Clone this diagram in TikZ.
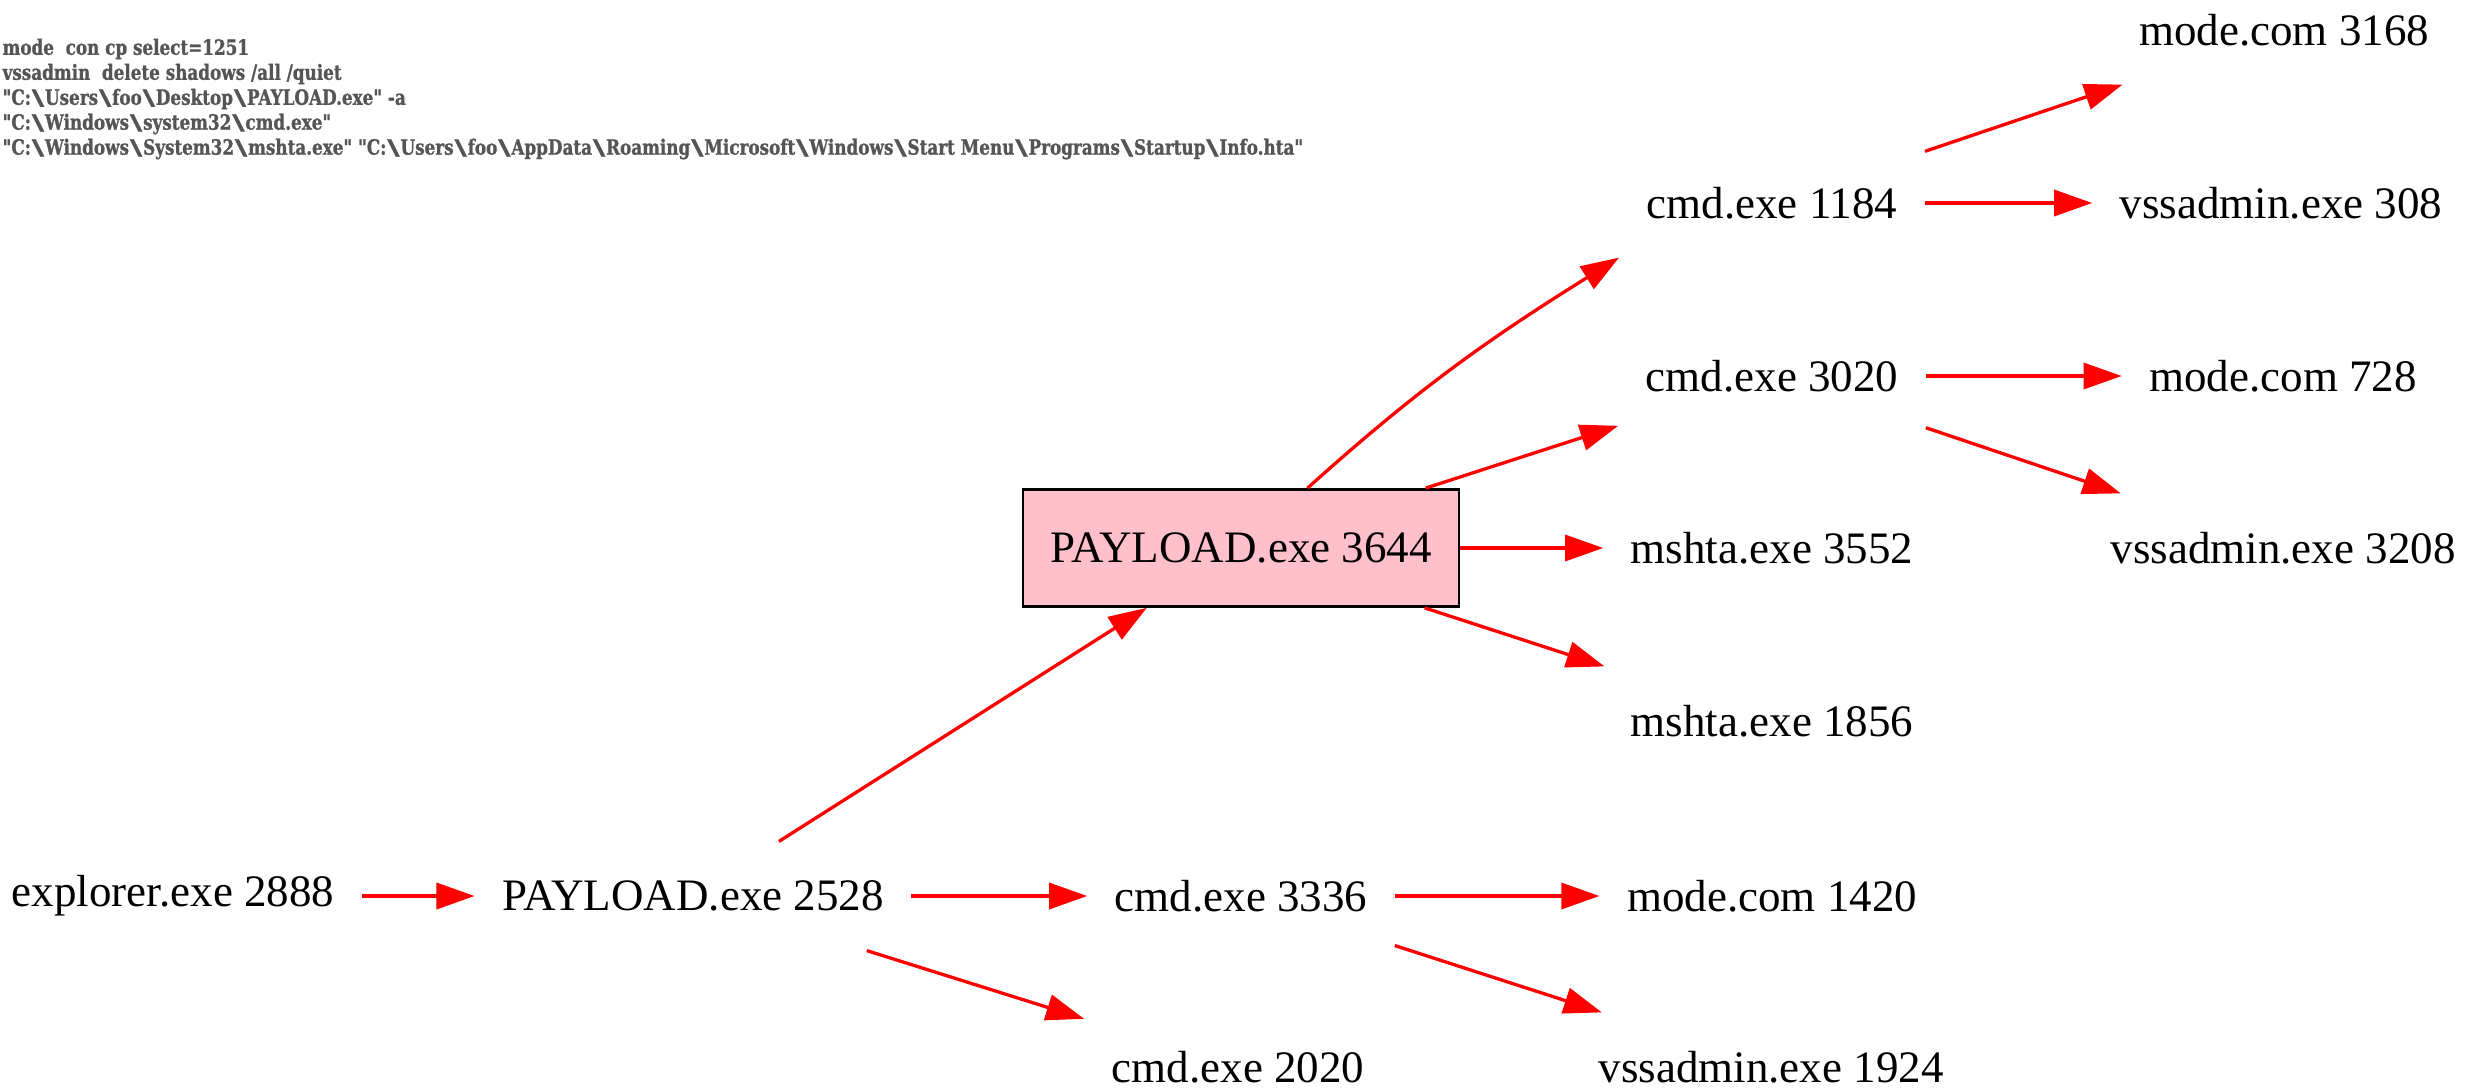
\documentclass[tikz,border=0pt]{standalone}
\usepackage{fontspec}
\setmainfont{Liberation Serif}
\newfontfamily\cmdfont[FakeStretch=0.8, BoldFeatures={FakeBold=1}]{DejaVu Serif}
\usetikzlibrary{arrows.meta,positioning}
\definecolor{cmdgray}{HTML}{555555}
\definecolor{hlpink}{HTML}{FFC0CB}
\newcommand{\bsl}{\hspace{0.3pt}\scalebox{2}[1]{\textbackslash}\hspace{0.3pt}}

\begin{document}
\begin{tikzpicture}[x=0.3333pt, y=-0.3333pt,
  proc/.style={font=\fontsize{15}{17}\selectfont, inner xsep=9pt, inner ysep=0pt, minimum height=36pt},
  hl/.style={proc, draw, line width=0.9pt, fill=hlpink, minimum width=145pt, minimum height=39pt},
  arr/.style={-{Triangle[length=12.7pt, width=8.7pt]}, red, line width=1.1pt},
  cmdline/.style={anchor=west, inner sep=0pt, text=cmdgray, font=\cmdfont\bfseries\fontsize{7}{8}\selectfont}
]
\useasboundingbox (0,0) rectangle (2485,1091);

% command lines
\node[cmdline] (l1) at (2,49) {mode\ \ con cp select=1251};
\node[cmdline] (l2) at (2,74) {vssadmin\ \ delete shadows /all /quiet};
\node[cmdline] (l3) at (2,99) {"C:\bsl Users\bsl foo\bsl Desktop\bsl PAYLOAD.exe" -a};
\node[cmdline] (l4) at (2,124) {"C:\bsl Windows\bsl system32\bsl cmd.exe"};
\node[cmdline] (l5) at (2,149) {"C:\bsl Windows\bsl System32\bsl mshta.exe" "C:\bsl Users\bsl foo\bsl AppData\bsl Roaming\bsl Microsoft\bsl Windows\bsl Start Menu\bsl Programs\bsl Startup\bsl Info.hta"};

% process tree
\node[proc] (expl) at (173,896) {explorer.exe 2888};
\node[proc] (p2528) at (693,896) {PAYLOAD.exe 2528};
\node[hl] (p3644) at (1241,548) {PAYLOAD.exe 3644};
\node[proc] (c3336) at (1241,896) {cmd.exe 3336};
\node[proc] (c2020) at (1238,1067) {cmd.exe 2020};
\node[proc] (m1420) at (1772,896) {mode.com 1420};
\node[proc] (v1924) at (1771,1067) {vssadmin.exe 1924};
\node[proc] (c1184) at (1772,203) {cmd.exe 1184};
\node[proc] (c3020) at (1772,376) {cmd.exe 3020};
\node[proc] (h3552) at (1772,548) {mshta.exe 3552};
\node[proc] (h1856) at (1772,721) {mshta.exe 1856};
\node[proc] (m3168) at (2284,30) {mode.com 3168};
\node[proc] (v308) at (2281,203) {vssadmin.exe 308};
\node[proc] (m728) at (2283,376) {mode.com 728};
\node[proc] (v3208) at (2283,548) {vssadmin.exe 3208};

\draw[arr] (expl) -- (p2528);
\draw[arr] (p2528) -- (p3644);
\draw[arr] (p2528) -- (c3336);
\draw[arr] (p2528) -- (c2020);
\draw[arr] (c3336) -- (m1420);
\draw[arr] (c3336) -- (v1924);
\draw[arr] (p3644) to[out=42, in=212] (c1184.south west);
\draw[arr] (p3644) -- (c3020);
\draw[arr] (p3644) -- (h3552);
\draw[arr] (p3644) -- (h1856);
\draw[arr] (c1184) -- (m3168);
\draw[arr] (c1184) -- (v308);
\draw[arr] (c3020) -- (m728);
\draw[arr] (c3020) -- (v3208);
\end{tikzpicture}
\end{document}
